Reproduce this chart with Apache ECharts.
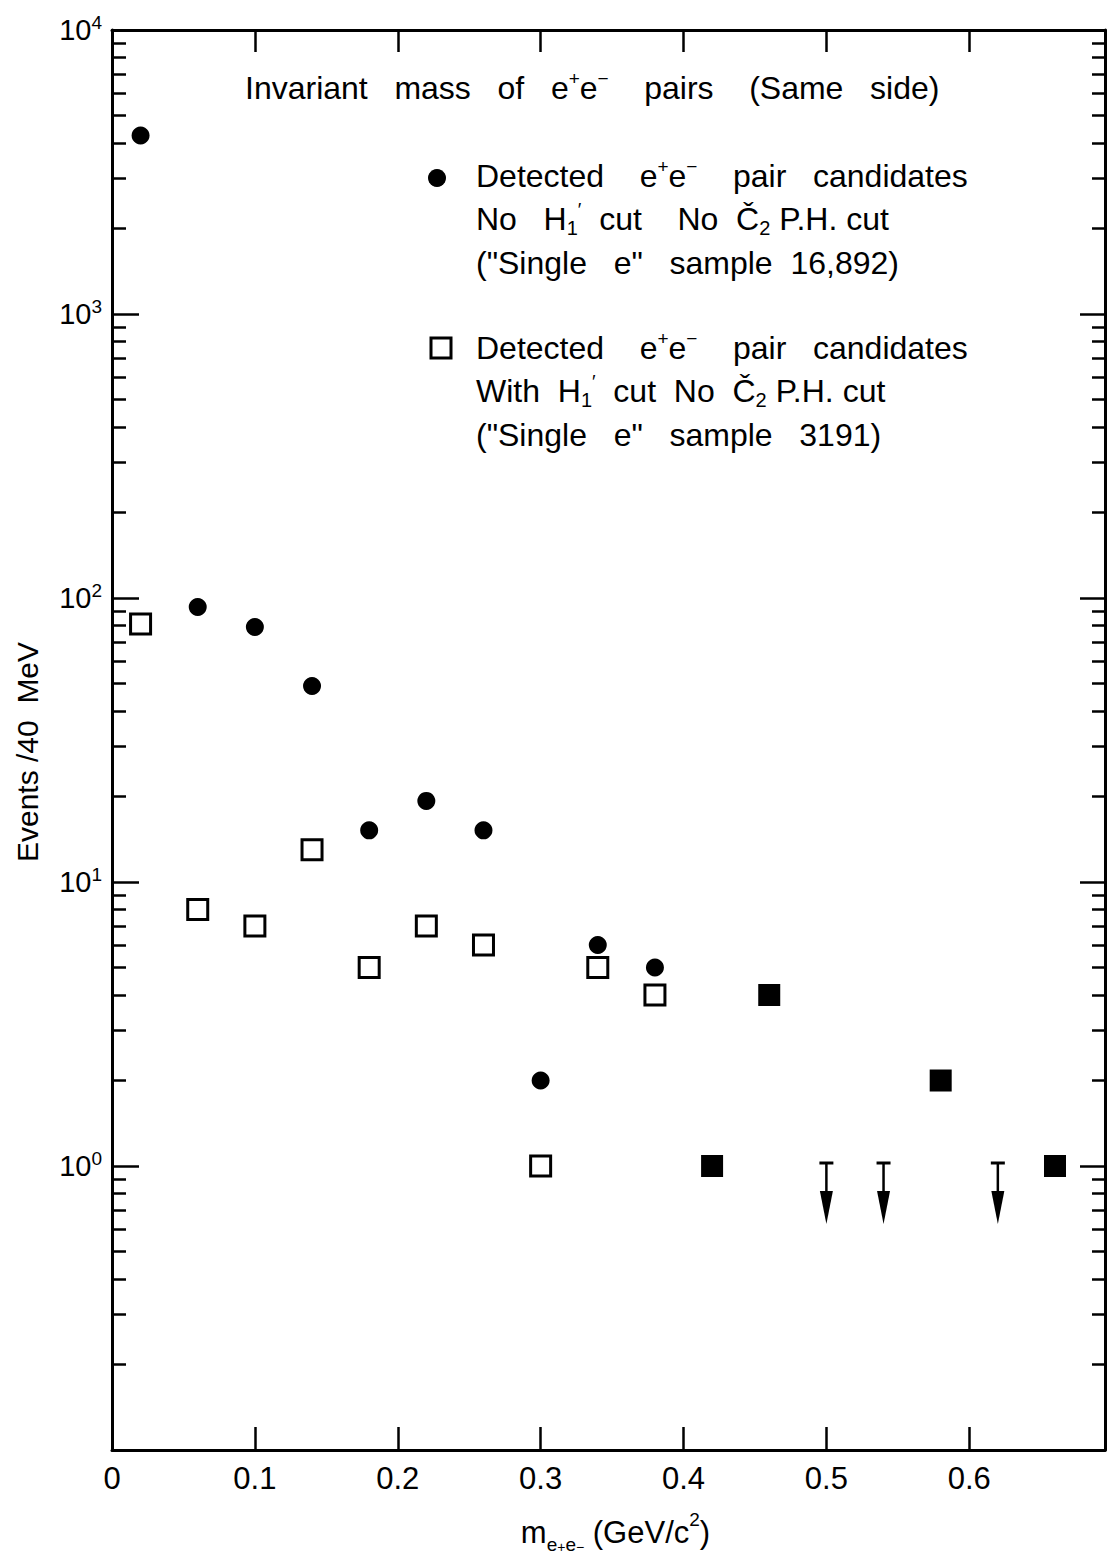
<!DOCTYPE html>
<html>
<head>
<meta charset="utf-8">
<script src="https://cdn.jsdelivr.net/npm/echarts@6/dist/echarts.min.js"></script>
<style>
html, body { margin: 0; padding: 0; background: #fff; }
#chart { width: 1107px; height: 1559px; }
</style>
</head>
<body>
<div id="chart"></div>
<script>
// filled circles: no H1' cut
var xCircle = [0.02, 0.06, 0.10, 0.14, 0.18, 0.22, 0.26, 0.30, 0.34, 0.38];
var yCircle = [4250, 93, 79, 49, 15.2, 19.3, 15.2, 2, 6, 5];
// open squares: with H1' cut
var xSquare = [0.02, 0.06, 0.10, 0.14, 0.18, 0.22, 0.26, 0.30, 0.34, 0.38];
var ySquare = [81, 8, 7, 13, 5, 7, 6, 1, 5, 4];
// filled squares: both samples agree
var xBoth = [0.42, 0.46, 0.58, 0.66];
var yBoth = [1, 4, 2, 1];
// upper limits (arrows)
var xLimit = [0.50, 0.54, 0.62, 0.70];
var yLimit = [1, 1, 1, 1];

var xLabels = [0, 0.1, 0.2, 0.3, 0.4, 0.5, 0.6];
var xTicks = [0.1, 0.2, 0.3, 0.4, 0.5, 0.6];
var yMajor = [1, 10, 100, 1000];
var yLabels = [1, 10, 100, 1000, 10000];
var yMinor = [0.2, 0.3, 0.4, 0.5, 0.6, 0.7, 0.8, 0.9,
  2, 3, 4, 5, 6, 7, 8, 9,
  20, 30, 40, 50, 60, 70, 80, 90,
  200, 300, 400, 500, 600, 700, 800, 900,
  2000, 3000, 4000, 5000, 6000, 7000, 8000, 9000];

var FONT = 'Liberation Sans';
var INK = '#000';

function zip(xs, ys) {
  var out = [];
  for (var i = 0; i < xs.length; i++) out.push([xs[i], ys[i]]);
  return out;
}

var chart = echarts.init(document.getElementById('chart'), null, {renderer: 'svg'});

var lineStyle = {color: INK, width: 3};

function logAxis(pos, ticks, len, showLine, labels) {
  return {
    type: 'log', logBase: 10, min: 0.1, max: 10000, position: pos,
    axisLine: {show: showLine, lineStyle: lineStyle},
    axisTick: {show: true, inside: true, length: len, customValues: ticks,
      lineStyle: {color: INK, width: 2.5}},
    axisLabel: labels ? {
      show: true, customValues: labels, margin: 10,
      formatter: function (v) {
        return '{b|10}{s|' + Math.round(Math.log10(v)) + '}';
      },
      rich: {
        b: {fontFamily: FONT, fontSize: 29, color: INK, lineHeight: 34},
        s: {fontFamily: FONT, fontSize: 19, color: INK, verticalAlign: 'top', lineHeight: 20}
      }
    } : {show: false},
    splitLine: {show: false},
    minorTick: {show: false}
  };
}

var option = {
  backgroundColor: '#fff',
  animation: false,
  grid: {left: 112, right: 2, top: 30, bottom: 104},
  xAxis: [
    {
      type: 'value', min: 0, max: 0.695, position: 'bottom',
      axisLine: {show: true, onZero: false, lineStyle: lineStyle},
      axisTick: {show: true, inside: true, length: 23, customValues: xTicks,
        lineStyle: {color: INK, width: 2.5}},
      axisLabel: {show: true, customValues: xLabels, margin: 13,
        fontFamily: FONT, fontSize: 31, color: INK,
        formatter: function (v) { return v === 0 ? '0' : v.toFixed(1); }},
      splitLine: {show: false},
      name: '{m|m}{sub|e}{ss|+}{sub|e}{ss|\u2212}{t| (GeV/c}{sup|2}{t|)}',
      nameLocation: 'middle', nameGap: 60,
      nameTextStyle: {
        padding: [0, 0, 0, 14],
        rich: {
          m: {fontFamily: FONT, fontSize: 31, color: INK, lineHeight: 44},
          t: {fontFamily: FONT, fontSize: 31, color: INK, lineHeight: 44},
          sub: {fontFamily: FONT, fontSize: 19, color: INK, verticalAlign: 'bottom', lineHeight: 18},
          ss: {fontFamily: FONT, fontSize: 14, color: INK, verticalAlign: 'bottom', lineHeight: 30},
          sup: {fontFamily: FONT, fontSize: 19, color: INK, verticalAlign: 'top', lineHeight: 20}
        }
      }
    },
    {
      type: 'value', min: 0, max: 0.695, position: 'top',
      axisLine: {show: true, onZero: false, lineStyle: lineStyle},
      axisTick: {show: true, inside: true, length: 22, customValues: xTicks,
        lineStyle: {color: INK, width: 2.5}},
      axisLabel: {show: false},
      splitLine: {show: false}
    }
  ],
  yAxis: [
    (function () {
      var a = logAxis('left', yMajor, 27, true, yLabels);
      a.name = 'Events /40  MeV';
      a.nameLocation = 'middle';
      a.nameGap = 70;
      a.nameTextStyle = {fontFamily: FONT, fontSize: 30, color: INK, padding: [0, 24, 0, 0]};
      return a;
    })(),
    logAxis('left', yMinor, 14, false, null),
    logAxis('right', yMajor, 25, true, null),
    logAxis('right', yMinor, 13, false, null)
  ],
  series: [
    {
      name: 'With H1 cut', type: 'scatter', xAxisIndex: 0, yAxisIndex: 0,
      data: zip(xSquare, ySquare),
      symbol: 'rect', symbolSize: 20,
      itemStyle: {color: '#fff', borderColor: INK, borderWidth: 3, opacity: 1}
    },
    {
      name: 'No H1 cut', type: 'scatter', xAxisIndex: 0, yAxisIndex: 0,
      data: zip(xCircle, yCircle),
      symbol: 'circle', symbolSize: 18,
      itemStyle: {color: INK, opacity: 1}
    },
    {
      name: 'Both', type: 'scatter', xAxisIndex: 0, yAxisIndex: 0,
      data: zip(xBoth, yBoth),
      symbol: 'rect', symbolSize: 22,
      itemStyle: {color: INK, opacity: 1}
    },
    {
      name: 'Upper limit', type: 'custom', xAxisIndex: 0, yAxisIndex: 0,
      clip: true,
      data: zip(xLimit, yLimit),
      renderItem: function (params, api) {
        var p = api.coord([api.value(0), api.value(1)]);
        return {
          type: 'group',
          children: [
            {type: 'line', shape: {x1: p[0] - 7, y1: p[1] - 3, x2: p[0] + 7, y2: p[1] - 3},
              style: {stroke: INK, lineWidth: 3}},
            {type: 'line', shape: {x1: p[0], y1: p[1] - 3, x2: p[0], y2: p[1] + 30},
              style: {stroke: INK, lineWidth: 2.5}},
            {type: 'polygon', shape: {points: [[p[0] - 6.5, p[1] + 25], [p[0] + 6.5, p[1] + 25], [p[0], p[1] + 58]]},
              style: {fill: INK}}
          ]
        };
      }
    }
  ],
  graphic: (function () {
    var rich = {
      n: {fontFamily: FONT, fontSize: 32, color: INK},
      sup: {fontFamily: FONT, fontSize: 19, color: INK, verticalAlign: 'top', lineHeight: 20},
      sub: {fontFamily: FONT, fontSize: 20, color: INK, verticalAlign: 'bottom', lineHeight: 16}
    };
    function txt(x, y, s) {
      return {
        type: 'text', x: x, y: y, silent: true,
        style: {text: s, rich: rich, fontFamily: FONT, fontSize: 32, fill: INK,
          verticalAlign: 'middle', align: 'left', lineHeight: 38}
      };
    }
    return [
      txt(245, 88, '{n|Invariant   mass   of   e}{sup|+}{n|e}{sup|\u2212}{n|    pairs    (Same   side)}'),
      {type: 'circle', shape: {cx: 437, cy: 178, r: 9}, style: {fill: INK}, silent: true},
      txt(476, 176, '{n|Detected    e}{sup|+}{n|e}{sup|\u2212}{n|    pair   candidates}'),
      txt(476, 219, '{n|No   H}{sub|1}{sup|\u2032}{n|  cut    No  \u010C}{sub|2}{n| P.H. cut}'),
      txt(476, 263, '{n|("Single   e"   sample  16,892)}'),
      {type: 'rect', shape: {x: 431, y: 338, width: 20, height: 20}, style: {fill: '#fff', stroke: INK, lineWidth: 3}, silent: true},
      txt(476, 348, '{n|Detected    e}{sup|+}{n|e}{sup|\u2212}{n|    pair   candidates}'),
      txt(476, 391, '{n|With  H}{sub|1}{sup|\u2032}{n|  cut  No  \u010C}{sub|2}{n| P.H. cut}'),
      txt(476, 435, '{n|("Single   e"   sample   3191)}')
    ];
  })()
};

chart.setOption(option);
</script>
</body>
</html>
